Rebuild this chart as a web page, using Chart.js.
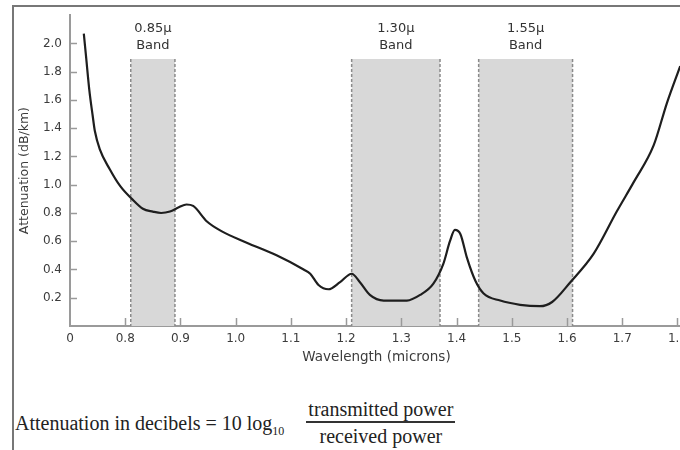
<!DOCTYPE HTML><html>
<head>
  <meta name="viewport" content="width=device-width, initial-scale=1">
  <script src="https://cdn.jsdelivr.net/npm/chart.js"></script>
  <style>
    html, body { margin: 0; padding: 0; background: #fff; }
    body { width: 680px; height: 450px; overflow: hidden; position: relative; }
    #frame {
      position: absolute; left: 12px; top: 5px; width: 700px; height: 460px;
      border-left: 2px solid #777; border-top: 2px solid #777;
    }
    #wrap { position: absolute; left: 0; top: 0; width: 720px; height: 380px; }
    #eq {
      position: absolute; left: 15px; top: 402px;
      font-family: "Liberation Serif", serif; font-size: 20px; color: #222;
      white-space: nowrap; line-height: 1;
    }
    #eq sub { font-size: 12px; }
    .frac {
      display: inline-flex; flex-direction: column; align-items: center;
      vertical-align: middle; margin-left: 22px; position: relative; top: -3px;
    }
    .frac span:first-child { border-bottom: 2px solid #333; padding: 0 2px 2px; }
    .frac span:last-child { padding-top: 3px; }
  </style>
</head>
<body>
  <div id="frame"></div>
  <div id="wrap"><canvas id="lossChart" width="720" height="380"></canvas></div>
  <div id="eq">Attenuation in decibels = 10 log<sub>10</sub><span class="frac"><span>transmitted power</span><span>received power</span></span></div>
<script>
  // wavelength (microns) and attenuation (dB/km)
  const wavelength = [0.725, 0.729, 0.735, 0.741, 0.745, 0.754, 0.772, 0.791, 0.812, 0.832,
    0.850, 0.865, 0.881, 0.897, 0.911, 0.923, 0.948, 0.975, 1.020, 1.074,
    1.123, 1.135, 1.150, 1.168, 1.189, 1.210, 1.225, 1.243, 1.268, 1.310,
    1.334, 1.358, 1.376, 1.388, 1.397, 1.407, 1.419, 1.434, 1.449, 1.479,
    1.515, 1.551, 1.573, 1.606, 1.648, 1.690, 1.721, 1.757, 1.781, 1.805];
  const attenuation = [2.07, 1.91, 1.67, 1.49, 1.38, 1.25, 1.11, 0.99, 0.90, 0.83,
    0.81, 0.80, 0.81, 0.84, 0.86, 0.85, 0.74, 0.67, 0.59, 0.50,
    0.40, 0.37, 0.29, 0.26, 0.31, 0.37, 0.31, 0.22, 0.18, 0.18,
    0.22, 0.30, 0.44, 0.60, 0.68, 0.65, 0.48, 0.32, 0.23, 0.18,
    0.15, 0.14, 0.17, 0.31, 0.51, 0.81, 1.02, 1.28, 1.58, 1.84];

  // shaded transmission windows
  const bandNames = ['0.85\u03bc', '1.30\u03bc', '1.55\u03bc'];
  const bandStart = [0.81, 1.21, 1.44];
  const bandEnd = [0.89, 1.37, 1.61];
  const bandTop = 1.89;

  // tick labels (the axis is broken: its left end is labelled 0)
  const xTicks = [0.7, 0.8, 0.9, 1.0, 1.1, 1.2, 1.3, 1.4, 1.5, 1.6, 1.7, 1.8];
  const yTicks = [0.2, 0.4, 0.6, 0.8, 1.0, 1.2, 1.4, 1.6, 1.8, 2.0];

  const inkGrey = '#3c3c3c';
  const axisGrey = '#9a9a9a';

  const bandsPlugin = {
    id: 'bands',
    beforeDatasetsDraw(chart) {
      const ctx = chart.ctx, x = chart.scales.x, y = chart.scales.y;
      const yTop = y.getPixelForValue(bandTop), yBot = y.getPixelForValue(0);
      ctx.save();
      bandNames.forEach((name, i) => {
        const x0 = x.getPixelForValue(bandStart[i]);
        const x1 = x.getPixelForValue(bandEnd[i]);
        ctx.fillStyle = '#d8d8d8';
        ctx.fillRect(x0, yTop, x1 - x0, yBot - yTop);
        ctx.strokeStyle = '#8a8a8a';
        ctx.lineWidth = 1.5;
        ctx.setLineDash([3, 2]);
        ctx.beginPath();
        ctx.moveTo(x0, yTop); ctx.lineTo(x0, yBot);
        ctx.moveTo(x1, yTop); ctx.lineTo(x1, yBot);
        ctx.stroke();
        ctx.setLineDash([]);
        ctx.fillStyle = '#333';
        ctx.font = '13px "DejaVu Sans"';
        ctx.textAlign = 'center';
        ctx.textBaseline = 'middle';
        const cx = (x0 + x1) / 2;
        ctx.fillText(name, cx, yTop - 30);
        ctx.fillText('Band', cx, yTop - 13);
      });
      ctx.restore();
    },
    afterDraw(chart) {
      // short tick marks pointing into the plot
      const ctx = chart.ctx, x = chart.scales.x, y = chart.scales.y;
      const area = chart.chartArea;
      ctx.save();
      ctx.strokeStyle = axisGrey;
      ctx.lineWidth = 1.5;
      ctx.beginPath();
      yTicks.forEach(v => {
        const py = Math.round(y.getPixelForValue(v)) + 0.5;
        ctx.moveTo(area.left, py); ctx.lineTo(area.left + 7, py);
      });
      xTicks.slice(1).forEach(v => {
        const px = Math.round(x.getPixelForValue(v)) + 0.5;
        ctx.moveTo(px, area.bottom); ctx.lineTo(px, area.bottom - 8);
      });
      ctx.stroke();
      ctx.restore();
    }
  };

  const ctx = document.getElementById('lossChart').getContext('2d');
  const lossChart = new Chart(ctx, {
    type: 'line',
    data: {
      datasets: [{
        label: 'Attenuation',
        data: wavelength.map((w, i) => ({ x: w, y: attenuation[i] })),
        borderColor: '#1e1e1e',
        borderWidth: 2.2,
        pointRadius: 0,
        fill: false,
        cubicInterpolationMode: 'monotone'
      }]
    },
    options: {
      responsive: false,
      animation: false,
      devicePixelRatio: 1,
      layout: { padding: { left: 0, top: 10, right: 37, bottom: 0 } },
      plugins: { legend: { display: false }, tooltip: { enabled: false } },
      scales: {
        x: {
          type: 'linear',
          min: 0.7,
          max: 1.81,
          afterBuildTicks: s => { s.ticks = xTicks.map(v => ({ value: v })); },
          afterFit: s => { s.height = 54; s.paddingLeft = 0; s.paddingRight = 0; },
          grid: { drawOnChartArea: false, drawTicks: false },
          border: { color: axisGrey, width: 2 },
          ticks: {
            autoSkip: false, maxRotation: 0, padding: 6, color: inkGrey,
            font: { family: 'DejaVu Sans', size: 12 },
            callback: v => v === 0.7 ? '0' : v.toFixed(1)
          },
          title: {
            display: true, text: 'Wavelength (microns)', color: inkGrey,
            font: { family: 'DejaVu Sans', size: 13.5 }, padding: { top: 0, bottom: 14 }
          }
        },
        y: {
          min: 0,
          max: 2.2,
          afterBuildTicks: s => { s.ticks = yTicks.map(v => ({ value: v })); },
          afterFit: s => { s.width = 70; },
          grid: { drawOnChartArea: false, drawTicks: false },
          border: { color: axisGrey, width: 2 },
          ticks: {
            padding: 8, color: inkGrey,
            font: { family: 'DejaVu Sans', size: 12 },
            callback: v => v.toFixed(1)
          },
          title: {
            display: true, text: 'Attenuation (dB/km)', color: inkGrey,
            font: { family: 'DejaVu Sans', size: 12.5 }, padding: { top: 17, bottom: 0 }
          }
        }
      }
    },
    plugins: [bandsPlugin]
  });
</script>
</body>
</html>
